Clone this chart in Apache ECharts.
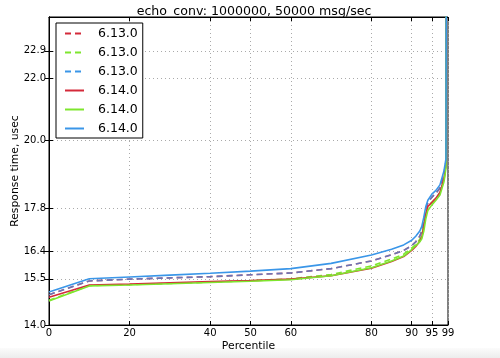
<!DOCTYPE html>
<html>
<head>
<meta charset="utf-8">
<script src="https://cdn.jsdelivr.net/npm/echarts@6/dist/echarts.min.js"></script>
<style>
  html, body { margin: 0; padding: 0; background: #fff; }
  #main { width: 500px; height: 358px; }
</style>
</head>
<body>
<div id="main"></div>
<script>
var pct = [0, 10, 20, 30, 40, 50, 60, 70, 80, 85, 88, 90, 91, 92, 92.5, 93, 93.5, 94, 95, 96, 97, 98, 98.5, 99];

// 6.13.0 (dashed)
var old_red   = [14.98, 15.43, 15.49, 15.53, 15.57, 15.63, 15.69, 15.83, 16.08, 16.28, 16.42, 16.58, 16.70, 16.88, 17.05, 17.35, 17.75, 17.98, 18.15, 18.28, 18.45, 18.90, 19.30, 60];
var old_green = [14.80, 15.28, 15.31, 15.35, 15.39, 15.44, 15.50, 15.64, 15.92, 16.14, 16.30, 16.50, 16.62, 16.78, 16.92, 17.25, 17.60, 17.85, 17.98, 18.10, 18.30, 18.70, 19.15, 60];
var old_blue  = [14.98, 15.43, 15.49, 15.53, 15.57, 15.63, 15.69, 15.83, 16.08, 16.28, 16.42, 16.58, 16.70, 16.88, 17.05, 17.35, 17.75, 17.98, 18.15, 18.28, 18.45, 18.90, 19.30, 60];
// 6.14.0 (solid)
var new_red   = [14.90, 15.30, 15.33, 15.37, 15.41, 15.44, 15.49, 15.60, 15.84, 16.06, 16.22, 16.42, 16.55, 16.72, 16.85, 17.20, 17.60, 17.85, 17.98, 18.12, 18.30, 18.75, 19.20, 60];
var new_green = [14.78, 15.27, 15.30, 15.34, 15.38, 15.42, 15.47, 15.60, 15.86, 16.08, 16.24, 16.45, 16.58, 16.70, 16.80, 17.05, 17.45, 17.72, 17.90, 18.05, 18.22, 18.65, 19.10, 60];
var new_blue  = [15.07, 15.50, 15.56, 15.62, 15.68, 15.75, 15.83, 16.00, 16.27, 16.46, 16.60, 16.75, 16.88, 17.05, 17.20, 17.50, 17.85, 18.05, 18.25, 18.37, 18.55, 19.00, 19.40, 60];

var xTicks = [0, 20, 40, 50, 60, 80, 90, 95, 99];
var yTicks = [14.0, 15.5, 16.4, 17.8, 20.0, 22.0, 22.9];

var RED = '#d42a3a', GREEN = '#7ee62e', BLUE = '#3a96e8';

function pairs(ys) {
    return pct.map(function (p, i) { return [p, ys[i]]; });
}

function mkSeries(name, ys, color, dashed, opacity) {
    return {
        name: name,
        type: 'line',
        symbol: 'none',
        data: pairs(ys),
        lineStyle: {
            color: color,
            width: 1.6,
            type: dashed ? [6, 4] : 'solid',
            opacity: opacity == null ? 1 : opacity
        },
        itemStyle: { color: color }
    };
}

var dom = document.getElementById('main');
var myChart = echarts.init(dom);

var tickStyle = { show: true, inside: true, length: 4, lineStyle: { color: '#000' } };

var option = {
    animation: false,
    backgroundColor: '#fff',
    textStyle: { fontFamily: 'DejaVu Sans' },
    title: {
        text: 'echo_conv: 1000000, 50000 msg/sec',
        left: 249,
        textAlign: 'center',
        top: 0,
        textStyle: { fontSize: 12.6, fontWeight: 'normal', color: '#000' }
    },
    grid: {
        left: 49, right: 52, top: 17, bottom: 33,
        outerBoundsMode: 'none',
        containLabel: false,
        show: true, borderColor: '#000', borderWidth: 1, backgroundColor: '#fff'
    },
    legend: {
        left: 56, top: 23,
        orient: 'vertical',
        itemWidth: 19, itemHeight: 12, itemGap: 6,
        padding: [4, 5, 3, 8],
        borderColor: '#000', borderWidth: 1, borderRadius: 0,
        backgroundColor: '#fff',
        selectedMode: false,
        itemStyle: { opacity: 0 },
        formatter: function (name) { return name.trim(); },
        textStyle: { fontSize: 12.5, color: '#000', padding: [0, 0, 0, 9] },
        data: [
            { name: '6.13.0' },
            { name: '6.13.0 ' },
            { name: '6.13.0  ', lineStyle: { opacity: 1 } },
            { name: '6.14.0' },
            { name: '6.14.0 ' },
            { name: '6.14.0  ' }
        ]
    },
    xAxis: [{
        type: 'value', min: 0, max: 99,
        name: 'Percentile', nameLocation: 'middle', nameGap: 16,
        nameMoveOverlap: false,
        nameTextStyle: { fontSize: 10.8, color: '#000' },
        axisLine: { show: true, lineStyle: { color: '#000' } },
        axisTick: Object.assign({ customValues: xTicks }, tickStyle),
        axisLabel: { customValues: xTicks, fontSize: 10, color: '#000', margin: 3 },
        splitLine: { show: true, lineStyle: { color: '#aaa', type: [1, 3], width: 1 } }
    }, {
        type: 'value', min: 0, max: 99, position: 'top',
        axisLine: { show: true, lineStyle: { color: '#000' } },
        axisTick: Object.assign({ customValues: xTicks }, tickStyle),
        axisLabel: { show: false, customValues: xTicks },
        splitLine: { show: false }
    }],
    yAxis: [{
        type: 'value', min: 14, max: 24,
        name: 'Response time, usec', nameLocation: 'middle', nameGap: 28,
        nameMoveOverlap: false,
        nameTextStyle: { fontSize: 10.8, color: '#000' },
        axisLine: { show: true, lineStyle: { color: '#000' } },
        axisTick: Object.assign({ customValues: yTicks }, tickStyle),
        axisLabel: {
            customValues: yTicks, fontSize: 10, color: '#000', margin: 3,
            formatter: function (v) { return v.toFixed(1); }
        },
        splitLine: { show: true, lineStyle: { color: '#aaa', type: [1, 3], width: 1 } }
    }, {
        type: 'value', min: 14, max: 24, position: 'right',
        axisLine: { show: true, lineStyle: { color: '#000' } },
        axisTick: Object.assign({ customValues: yTicks }, tickStyle),
        axisLabel: { show: false, customValues: yTicks },
        splitLine: { show: false }
    }],
    graphic: [{
        type: 'rect',
        left: 0, top: 348,
        shape: { width: 500, height: 10 },
        style: {
            fill: new echarts.graphic.LinearGradient(0, 0, 0, 1, [
                { offset: 0, color: '#fbfbfb' },
                { offset: 1, color: '#ececec' }
            ])
        },
        silent: true
    }],
    series: [
        mkSeries('6.13.0', old_red, RED, true),
        mkSeries('6.13.0 ', old_green, GREEN, true),
        mkSeries('6.13.0  ', old_blue, BLUE, true, 0.7),
        mkSeries('6.14.0', new_red, RED, false),
        mkSeries('6.14.0 ', new_green, GREEN, false),
        mkSeries('6.14.0  ', new_blue, BLUE, false)
    ]
};

myChart.setOption(option);
</script>
</body>
</html>
